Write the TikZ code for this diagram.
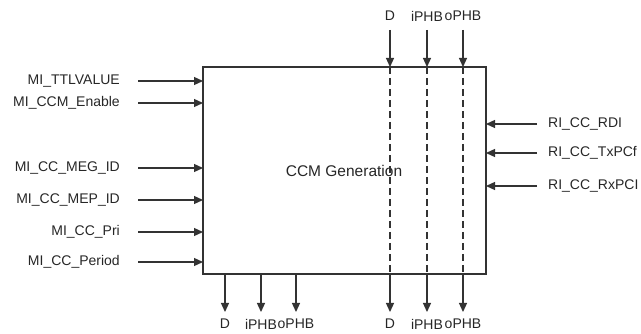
\documentclass[tikz,border=0pt]{standalone}
\usepackage{fontspec}
\setmainfont{Liberation Sans}
\usetikzlibrary{arrows.meta}
\begin{document}
\begin{tikzpicture}[x=1pt,y=-1pt,
  sig/.style={draw=black!80,line width=1.2pt,-{Triangle[length=9pt,width=8pt]}},
  dash line/.style={draw=black!80,line width=1.2pt,dash pattern=on 7pt off 4pt},
  lbl/.style={inner sep=0pt,font=\fontsize{14}{16}\selectfont,text=black!85}]
\useasboundingbox (0,0) rectangle (641,334);
% block
\draw[black!80,line width=1.2pt] (203,67) rectangle (486,274);
\node[lbl,font=\fontsize{15.5}{18}\selectfont] (title) at (344,171) {CCM Generation};
% left inputs
\foreach \n/\t/\y in {a/MI\_TTLVALUE/81, b/MI\_CCM\_Enable/103, c/MI\_CC\_MEG\_ID/168,
                       d/MI\_CC\_MEP\_ID/200, e/MI\_CC\_Pri/232, f/MI\_CC\_Period/262}{
  \node[lbl,anchor=east] (in\n) at (120,\y) {\t};
  \coordinate (s\n) at (138,\y);
  \coordinate (e\n) at (203,\y);
  \draw[sig] (s\n) -- (e\n);
}
% right inputs
\foreach \n/\t/\y in {a/RI\_CC\_RDI/124, b/RI\_CC\_TxPCf/153, c/RI\_CC\_RxPCI/186}{
  \node[lbl,anchor=west] (rin\n) at (548,\y) {\t};
  \coordinate (rs\n) at (537,\y);
  \coordinate (re\n) at (486,\y);
  \draw[sig] (rs\n) -- (re\n);
}
% pass-through signals
\foreach \n/\t/\x in {a/D/390, b/iPHB/427, c/oPHB/463}{
  \node[lbl] (top\n) at (\x,16) {\t};
  \coordinate (ts\n) at (\x,30);
  \coordinate (tt\n) at (\x,67);
  \coordinate (tb\n) at (\x,274);
  \coordinate (te\n) at (\x,312);
  \node[lbl] (bot\n) at (\x,324) {\t};
  \draw[sig] (ts\n) -- (tt\n);
  \draw[dash line] (tt\n) -- (tb\n);
  \draw[sig] (tb\n) -- (te\n);
}
% generated outputs
\foreach \n/\t/\x in {a/D/225, b/iPHB/261, c/oPHB/296}{
  \coordinate (os\n) at (\x,274);
  \coordinate (oe\n) at (\x,312);
  \node[lbl] (out\n) at (\x,324) {\t};
  \draw[sig] (os\n) -- (oe\n);
}
\end{tikzpicture}
\end{document}
